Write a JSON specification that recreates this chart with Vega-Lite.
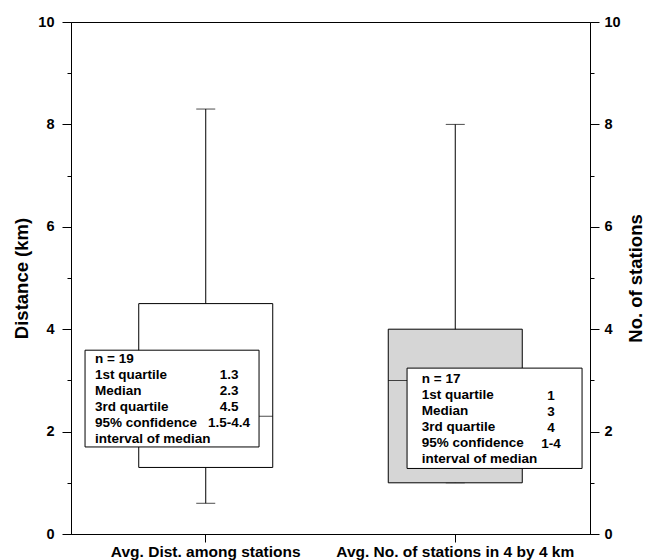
{
  "$schema": "https://vega.github.io/schema/vega-lite/v6.json",
  "autosize": "none",
  "width": 519,
  "height": 512,
  "padding": {"left": 71, "top": 22, "right": 59, "bottom": 26},
  "background": "white",
  "config": {
    "view": {"stroke": "black", "strokeWidth": 1},
    "font": "Liberation Sans",
    "axis": {
      "labelFont": "Liberation Sans",
      "labelFontWeight": "bold",
      "labelColor": "black",
      "titleFont": "Liberation Sans",
      "titleFontWeight": "bold",
      "titleColor": "black",
      "domainColor": "black",
      "tickColor": "black",
      "grid": false
    }
  },
  "datasets": {
    "boxes": [
      {"cat": "Avg. Dist. among stations", "lower": 0.6, "q1": 1.3, "median": 2.3, "q3": 4.5, "upper": 8.3},
      {"cat": "Avg. No. of stations in 4 by 4 km", "lower": 1, "q1": 1, "median": 3, "q3": 4, "upper": 8}
    ],
    "noteLeft": [
      {"cat": "Avg. Dist. among stations", "labels": "n = 19\n1st quartile\nMedian\n3rd quartile\n95% confidence\ninterval of median", "values": "1.3\n2.3\n4.5\n1.5-4.4"}
    ],
    "noteRight": [
      {"cat": "Avg. No. of stations in 4 by 4 km", "labels": "n = 17\n1st quartile\nMedian\n3rd quartile\n95% confidence\ninterval of median", "values": "1\n3\n4\n1-4"}
    ]
  },
  "data": {"name": "boxes"},
  "layer": [
    {
      "mark": {"type": "rule", "color": "black", "strokeWidth": 1},
      "encoding": {
        "x": {
          "field": "cat", "type": "nominal",
          "scale": {"type": "band", "paddingInner": 0, "paddingOuter": 0.04, "domain": ["Avg. Dist. among stations", "Avg. No. of stations in 4 by 4 km"]},
          "axis": {"title": null, "labelAngle": 0, "labelFontSize": 15.5, "labelLimit": 0, "tickSize": 8, "labelPadding": 2, "domainColor": "black"}
        },
        "y": {
          "field": "lower", "type": "quantitative",
          "scale": {"domain": [0, 10], "nice": false},
          "axis": {
            "orient": "left",
            "title": "Distance (km)",
            "titleFontSize": 18.5,
            "titlePadding": 6,
            "values": [0, 1, 2, 3, 4, 5, 6, 7, 8, 9, 10],
            "labelExpr": "datum.value % 2 == 0 ? datum.label : ''",
            "labelFontSize": 14.5,
            "labelPadding": 8,
            "tickSize": {"condition": {"test": "datum.value % 2 == 1", "value": 4}, "value": 9}
          }
        },
        "y2": {"field": "upper"}
      }
    },
    {
      "mark": {"type": "tick", "color": "black", "thickness": 1},
      "encoding": {
        "x": {"field": "cat", "type": "nominal"},
        "y": {"field": "lower", "type": "quantitative", "axis": null},
        "size": {"value": 19}
      }
    },
    {
      "mark": {"type": "tick", "color": "black", "thickness": 1},
      "encoding": {
        "x": {"field": "cat", "type": "nominal"},
        "y": {
          "field": "upper", "type": "quantitative",
          "axis": {
            "orient": "right",
            "title": "No. of stations",
            "titleFontSize": 18.5,
            "titleAngle": 270,
            "titlePadding": 25,
            "values": [0, 1, 2, 3, 4, 5, 6, 7, 8, 9, 10],
            "labelExpr": "datum.value % 2 == 0 ? datum.label : ''",
            "labelFontSize": 14.5,
            "labelPadding": 5,
            "tickSize": {"condition": {"test": "datum.value % 2 == 1", "value": 4}, "value": 9}
          }
        },
        "size": {"value": 19}
      }
    },
    {
      "mark": {"type": "bar", "width": 134, "stroke": "black", "strokeWidth": 1},
      "encoding": {
        "x": {"field": "cat", "type": "nominal"},
        "y": {"field": "q1", "type": "quantitative", "axis": null},
        "y2": {"field": "q3"},
        "fill": {"field": "cat", "type": "nominal", "scale": {"range": ["white", "#d6d6d6"]}, "legend": null}
      }
    },
    {
      "mark": {"type": "tick", "color": "black", "thickness": 1},
      "encoding": {
        "x": {"field": "cat", "type": "nominal"},
        "y": {"field": "median", "type": "quantitative", "axis": null},
        "size": {"value": 134}
      }
    },
    {
      "data": {"name": "noteLeft"},
      "mark": {"type": "bar", "width": 174, "xOffset": -33.7, "fill": "white", "stroke": "black", "strokeWidth": 1},
      "encoding": {
        "x": {"field": "cat", "type": "nominal"},
        "y": {"datum": 3.59, "type": "quantitative", "axis": null},
        "y2": {"datum": 1.70}
      }
    },
    {
      "data": {"name": "noteLeft"},
      "mark": {"type": "text", "align": "left", "baseline": "middle", "dx": -110.7, "lineBreak": "\n", "lineHeight": 16, "fontSize": 13.5, "fontWeight": "bold", "font": "Liberation Sans", "color": "black"},
      "encoding": {
        "x": {"field": "cat", "type": "nominal"},
        "y": {"datum": 3.42, "type": "quantitative", "axis": null},
        "text": {"field": "labels"}
      }
    },
    {
      "data": {"name": "noteLeft"},
      "mark": {"type": "text", "align": "center", "baseline": "middle", "dx": 23.3, "lineBreak": "\n", "lineHeight": 16, "fontSize": 13.5, "fontWeight": "bold", "font": "Liberation Sans", "color": "black"},
      "encoding": {
        "x": {"field": "cat", "type": "nominal"},
        "y": {"datum": 3.11, "type": "quantitative", "axis": null},
        "text": {"field": "values"}
      }
    },
    {
      "data": {"name": "noteRight"},
      "mark": {"type": "bar", "width": 175, "xOffset": 39.3, "fill": "white", "stroke": "black", "strokeWidth": 1},
      "encoding": {
        "x": {"field": "cat", "type": "nominal"},
        "y": {"datum": 3.24, "type": "quantitative", "axis": null},
        "y2": {"datum": 1.28}
      }
    },
    {
      "data": {"name": "noteRight"},
      "mark": {"type": "text", "align": "left", "baseline": "middle", "dx": -33.5, "lineBreak": "\n", "lineHeight": 16, "fontSize": 13.5, "fontWeight": "bold", "font": "Liberation Sans", "color": "black"},
      "encoding": {
        "x": {"field": "cat", "type": "nominal"},
        "y": {"datum": 3.035, "type": "quantitative", "axis": null},
        "text": {"field": "labels"}
      }
    },
    {
      "data": {"name": "noteRight"},
      "mark": {"type": "text", "align": "center", "baseline": "middle", "dx": 95.8, "lineBreak": "\n", "lineHeight": 16, "fontSize": 13.5, "fontWeight": "bold", "font": "Liberation Sans", "color": "black"},
      "encoding": {
        "x": {"field": "cat", "type": "nominal"},
        "y": {"datum": 2.70, "type": "quantitative", "axis": null},
        "text": {"field": "values"}
      }
    }
  ],
  "resolve": {"axis": {"y": "independent"}}
}
